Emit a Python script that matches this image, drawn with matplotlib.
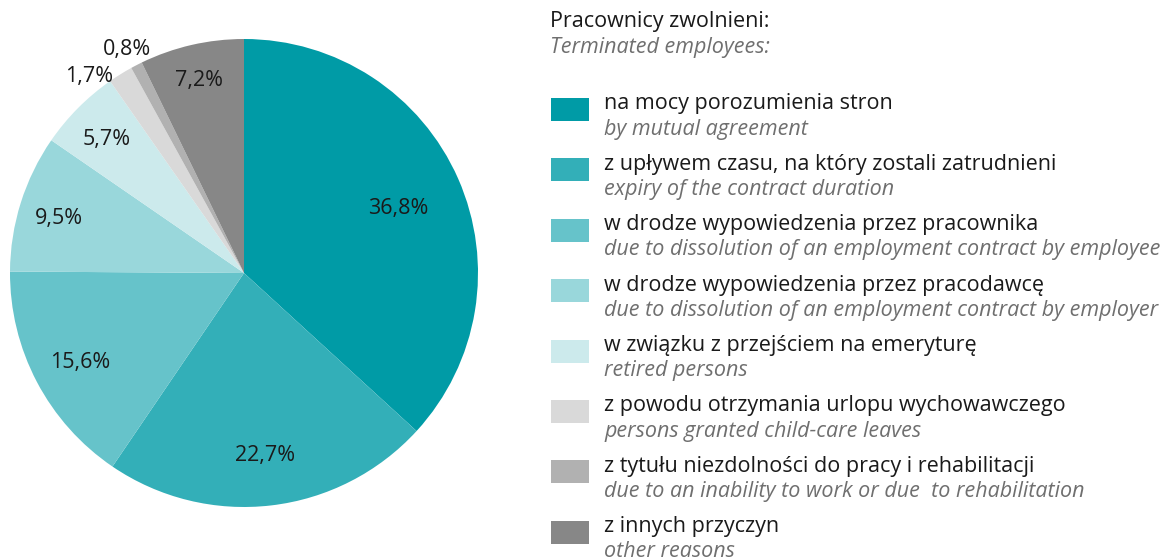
import matplotlib.pyplot as plt
import numpy as np
from matplotlib.patches import Rectangle

shares = [36.8, 22.7, 15.6, 9.5, 5.7, 1.7, 0.8, 7.2]
pct_labels = ["36,8%", "22,7%", "15,6%", "9,5%", "5,7%", "1,7%", "0,8%", "7,2%"]
label_radius = [0.72, 0.77, 0.79, 0.83, 0.83, 1.08, 1.09, 0.86]
label_turn = [0, 0, 0, 0, 0, 5.8, 0, 0]  # degrees, to keep small labels apart
colors = ["#009ba6", "#33afb8", "#66c3ca", "#99d7db", "#cceaec", "#d9d9d9", "#b1b1b1", "#878787"]
names_pl = [
    "na mocy porozumienia stron",
    "z upływem czasu, na który zostali zatrudnieni",
    "w drodze wypowiedzenia przez pracownika",
    "w drodze wypowiedzenia przez pracodawcę",
    "w związku z przejściem na emeryturę",
    "z powodu otrzymania urlopu wychowawczego",
    "z tytułu niezdolności do pracy i rehabilitacji",
    "z innych przyczyn",
]
names_en = [
    "by mutual agreement",
    "expiry of the contract duration",
    "due to dissolution of an employment contract by employee",
    "due to dissolution of an employment contract by employer",
    "retired persons",
    "persons granted child-care leaves",
    "due to an inability to work or due  to rehabilitation",
    "other reasons",
]

plt.rcParams['font.family'] = ['Open Sans', 'DejaVu Sans']
W, H = 1175, 560
FS = 15.5
fig = plt.figure(figsize=(W / 100, H / 100), dpi=100)

# pie: centre (244, 273), radius 234 px
cx, cy, r = 244, 273, 234
ax = fig.add_axes([(cx - r) / W, (H - cy - r) / H, 2 * r / W, 2 * r / H])
wedges, _ = ax.pie(shares, colors=colors, startangle=90, counterclock=False,
                   radius=1, wedgeprops=dict(linewidth=0))
for w, lab, rr, turn in zip(wedges, pct_labels, label_radius, label_turn):
    mid = np.deg2rad((w.theta1 + w.theta2) / 2 + turn)
    ax.text(rr * np.cos(mid), rr * np.sin(mid) - 0.015, lab, ha='center', va='center',
            fontsize=FS, color='#1a1a1a')
ax.set_xlim(-1, 1)
ax.set_ylim(-1, 1)
ax.set_aspect('equal')
ax.axis('off')

# legend drawn by hand
fig.text(550 / W, 1 - 21 / H, "Pracownicy zwolnieni:", fontsize=FS, color='#1a1a1a', va='center')
fig.text(550 / W, 1 - 47 / H, "Terminated employees:", fontsize=FS, color='#6f6f6f',
         style='italic', va='center')
y0, step = 104, 60.4
for i, (pl, en) in enumerate(zip(names_pl, names_en)):
    yc = y0 + i * step
    fig.patches.append(Rectangle((551 / W, 1 - (yc + 17) / H), 38 / W, 23 / H,
                                 transform=fig.transFigure, color=colors[i], linewidth=0))
    fig.text(604 / W, 1 - yc / H, pl, fontsize=FS, color='#1a1a1a', va='center')
    fig.text(604 / W, 1 - (yc + 25) / H, en, fontsize=FS, color='#6f6f6f',
             style='italic', va='center')

fig.savefig("out.png", dpi=100)
